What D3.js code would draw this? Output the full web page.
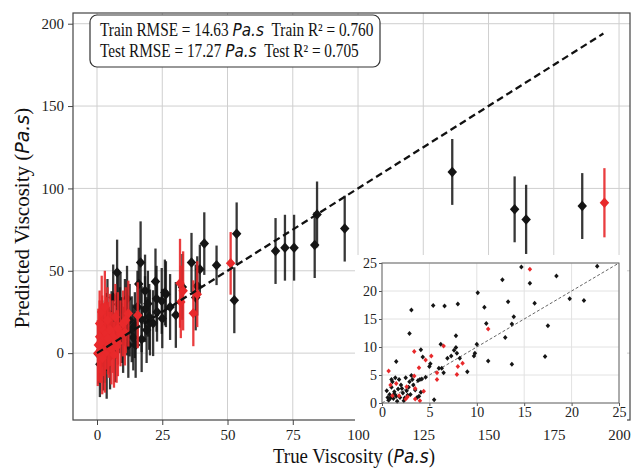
<!DOCTYPE html>
<html>
<head>
<meta charset="utf-8">
<script src="https://cdn.jsdelivr.net/npm/d3@7"></script>
<style>
	body { margin: 0; background: #fff; }
	.tick text { font-family: "Liberation Serif", "Times New Roman", serif; font-size: 15px; fill: #222; }
	.serif { font-family: "Liberation Serif", "Times New Roman", serif; fill: #111; }
	.mt { font-family: "DejaVu Sans", sans-serif; font-style: italic; }
</style>
</head>
<body>
<div id="chart"></div>
<script>
// main plot data: [true, predicted, error]
var trainPoints = [
	[136.1, 110, 20], [160, 87.3, 20], [164.4, 81.2, 21], [185.9, 89.3, 20],
	[68.4, 62, 20], [72, 64, 20], [75.5, 64, 20], [83.4, 65.6, 20], [84.3, 84.2, 20], [94.9, 75.6, 20],
	[53.5, 72.5, 19], [52.6, 32.1, 20], [45.8, 53.3, 12], [41.1, 66.5, 19], [39.4, 50.9, 15],
	[36.2, 55, 18], [38.4, 40.8, 18], [37.8, 33.8, 20], [32.7, 40.2, 20], [30.2, 23.2, 20], [26.4, 35.8, 20],
	[16.7, 55, 25], [7.7, 48.9, 20], [22.4, 43.5, 20], [18.4, 37.8, 22], [26, 36.8, 20], [24.8, 31.7, 20],
	[6.2, 33.8, 20], [8.2, 29.7, 20], [10.7, 25, 20], [18.4, 26.7, 20], [20.3, 18.6, 20], [21.5, 18.2, 20],
	[17.1, 20.6, 20], [3.7, 16.5, 20], [5.6, 17.6, 20], [7.5, 16.5, 20], [11.4, 18.6, 20], [13.9, 9.5, 20],
	[17.1, 8.5, 20], [13.3, 14.5, 20], [1.1, -6.7, 20], [3.7, -7.7, 20], [2.4, -4.7, 18], [6.9, 2.4, 20],
	[0.5, -0.6, 18], [12.5, 20, 22], [14.5, 17, 20], [15.5, 28, 22], [19.5, 30, 20], [23, 25, 18],
	[9.5, 14, 20], [10, 8, 20], [12, 5, 20], [8.8, 20, 20], [4.5, 8, 20], [2, 12, 20], [1.5, 4, 18],
	[3, 2, 20], [5, -2, 20], [9, 27, 22], [11.5, 33, 20], [16, 42, 22], [19, 14, 20], [25, 21, 18],
	[28, 28, 20], [4, 25, 20], [2.8, 6, 20], [14.8, 5, 20], [20, 22, 20], [22.8, 33, 20]
];
var testPoints = [
	[194.4, 91.3, 21], [51.2, 54.5, 19], [38.4, 35.8, 20], [36.9, 24.2, 20], [31.8, 42.4, 27],
	[33, 37.8, 24], [32.1, 31.1, 22], [15.6, 23, 20], [10.7, 12.5, 20],
	[0.5, 5, 22], [1, 10, 22], [1.5, 2, 20], [2, 15, 20], [2.5, 8, 22], [3, 0, 24], [3.5, 12, 22],
	[4, 20, 20], [4.5, 5, 20], [5, 14, 22], [6, 10, 22], [7, 22, 20], [8, 6, 20], [9, 12, 20],
	[10, 18, 20], [12, 24, 20], [1, 18, 20], [2, -3, 22], [0.3, 0, 20], [1.8, 25, 22], [6.5, -1, 20],
	[3, 28, 22], [8, 15, 22], [5.5, 3, 22], [11, 20, 20], [4.2, 9, 22], [7.5, 4, 22], [1.2, 6, 24]
];

// inset data: [true, predicted]
var insetTrain = [
	[22.7, 24.4], [14.7, 24.3], [15.6, 21.4], [12.7, 22.0], [18.4, 22.7], [10.1, 19.7], [13.3, 18.1],
	[19.8, 18.6], [21.3, 18.3], [16.1, 17.8], [10.8, 17.1], [8.0, 17.7], [6.6, 17.3], [5.4, 17.4],
	[3.1, 16.6], [2.9, 12.4], [11.0, 14.2], [13.7, 14.1], [13.9, 15.4], [17.5, 13.8], [13.0, 11.7],
	[7.8, 12.0], [10.0, 10.5], [11.2, 7.5], [13.7, 6.9], [17.2, 8.3], [6.2, 10.5], [7.8, 9.9],
	[7.6, 9.4], [7.3, 8.4], [7.9, 8.9], [8.2, 8.0], [6.9, 8.0], [9.7, 8.4], [9.8, 8.9], [9.0, 5.6],
	[6.5, 5.4], [6.3, 6.2], [6.0, 6.2], [5.0, 6.5], [5.1, 7.0], [4.6, 4.6], [4.2, 4.3], [3.8, 4.0],
	[4.1, 9.5], [4.3, 8.2], [5.5, 0.6], [1.5, 7.4], [0.5, 2.2], [0.8, 1.5], [1.0, 2.8], [1.2, 0.8],
	[1.3, 2.0], [1.5, 1.2], [1.7, 2.5], [1.9, 1.0], [2.0, 3.2], [2.2, 1.8], [2.4, 0.9], [2.6, 2.2],
	[0.7, 0.5], [1.1, 3.8], [1.4, 4.5], [1.8, 4.2], [2.5, 4.5], [2.9, 3.8], [3.1, 4.9], [3.3, 3.2],
	[3.0, 1.5], [3.5, 2.3], [3.7, 1.0], [1.6, 0.3], [2.3, 0.4], [0.9, 0.9], [1.0, 4.2], [2.8, 2.8],
	[0.6, 1.0], [3.9, 1.2], [4.1, 1.9], [4.0, 4.2], [3.2, 4.2], [2.1, 2.6], [1.3, 1.6], [2.7, 1.4]
];
var insetTest = [
	[15.6, 23.9], [11.2, 13.2], [6.5, 10.2], [3.4, 9.2], [5.2, 8.4], [4.6, 7.7], [3.9, 6.3],
	[8.0, 6.5], [8.5, 7.1], [7.9, 5.1], [5.8, 4.2], [5.8, 5.4], [0.7, 5.7], [3.4, 4.8], [0.9, 3.2],
	[3.5, 2.6], [4.4, 2.1], [2.6, 2.9], [1.8, 1.3], [2.7, 1.1], [2.5, 0.7], [3.5, 0.7], [4.0, 0.4],
	[1.5, 3.5], [1.1, 1.3]
];

var xTicks = [0, 25, 50, 75, 100, 125, 150, 175, 200];
var yTicks = [0, 50, 100, 150, 200];
var insetTicks = [0, 5, 10, 15, 20, 25];
var fitLine = [0, 194];
var insetLine = [0, 25];
var statLines = [
	["Train RMSE = 14.63 ", "Train R\u00b2 = 0.760"],
	["Test RMSE = 17.27 ", "Test R\u00b2 = 0.705"]
];

var colors = { train: "#151515", test: "#e8292b" };

var svg = d3.select("#chart").append("svg")
	.attr("width", 633)
	.attr("height", 468);

// main scales
var x = d3.scaleLinear().domain([-9.2, 204.2]).range([73, 630]);
var y = d3.scaleLinear().domain([-40.6, 206.5]).range([420, 13]);

// diamond path centred on 0,0
function diamond(w, h) {
	return "M0," + (-h / 2) + "L" + (w / 2) + ",0L0," + (h / 2) + "L" + (-w / 2) + ",0Z";
}

// grid
var grid = svg.append("g");
grid.selectAll(".gx").data(xTicks).enter().append("line")
	.attr("x1", function(d) { return x(d); }).attr("x2", function(d) { return x(d); })
	.attr("y1", 13).attr("y2", 420)
	.attr("stroke", "#cfcfcf").attr("stroke-width", 1);
grid.selectAll(".gy").data(yTicks).enter().append("line")
	.attr("x1", 73).attr("x2", 630)
	.attr("y1", function(d) { return y(d); }).attr("y2", function(d) { return y(d); })
	.attr("stroke", "#cfcfcf").attr("stroke-width", 1);

// axes
var xAxis = svg.append("g")
	.attr("transform", "translate(0,420)")
	.call(d3.axisBottom(x).tickValues(xTicks).tickSize(5).tickPadding(4));
var yAxis = svg.append("g")
	.attr("transform", "translate(73,0)")
	.call(d3.axisLeft(y).tickValues(yTicks).tickSize(5).tickPadding(4));
[xAxis, yAxis].forEach(function(a) {
	a.select(".domain").remove();
	a.selectAll(".tick line").attr("stroke", "#444");
});

// error bars and markers
function drawSeries(data, color, opacity) {
	var g = svg.append("g");
	g.selectAll("line").data(data).enter().append("line")
		.attr("x1", function(d) { return x(d[0]); })
		.attr("x2", function(d) { return x(d[0]); })
		.attr("y1", function(d) { return y(d[1] - d[2]); })
		.attr("y2", function(d) { return y(d[1] + d[2]); })
		.attr("stroke", color).attr("stroke-width", 2.3).attr("opacity", opacity);
	g.selectAll("path").data(data).enter().append("path")
		.attr("d", diamond(9.5, 10.5))
		.attr("transform", function(d) { return "translate(" + x(d[0]) + "," + y(d[1]) + ")"; })
		.attr("fill", color);
}
drawSeries(trainPoints, colors.train, 0.85);
drawSeries(testPoints, colors.test, 0.9);

// identity line
svg.append("line")
	.attr("x1", x(fitLine[0])).attr("y1", y(fitLine[0]))
	.attr("x2", x(fitLine[1])).attr("y2", y(fitLine[1]))
	.attr("stroke", "#111").attr("stroke-width", 2.3)
	.attr("stroke-dasharray", "7,4");

// frame
svg.append("rect")
	.attr("x", 73).attr("y", 13).attr("width", 557).attr("height", 407)
	.attr("fill", "none").attr("stroke", "#444").attr("stroke-width", 1.2);

// stats box (text squeezed horizontally like the source image)
svg.append("rect")
	.attr("x", 90).attr("y", 15).attr("width", 290).attr("height", 52).attr("rx", 7)
	.attr("fill", "#fff").attr("stroke", "#333").attr("stroke-width", 1.2);
statLines.forEach(function(s, i) {
	var t = svg.append("text").attr("class", "serif")
		.attr("transform", "translate(100," + (36 + i * 21) + ") scale(0.85,1)")
		.style("font-size", "18px");
	t.append("tspan").text(s[0]);
	t.append("tspan").attr("class", "mt").style("font-size", "18px").text("Pa.s");
	t.append("tspan").attr("dx", 9).text(s[1]);
});

// axis labels
svg.append("text").attr("class", "serif")
	.attr("transform", "translate(354,463) scale(0.9,1)")
	.attr("text-anchor", "middle")
	.style("font-size", "21px")
	.call(function(t) {
		t.append("tspan").text("True Viscosity (");
		t.append("tspan").attr("class", "mt").style("font-size", "19px").text("Pa.s");
		t.append("tspan").text(")");
	});
svg.append("text").attr("class", "serif")
	.attr("transform", "translate(29,218) rotate(-90)")
	.attr("text-anchor", "middle")
	.style("font-size", "21px")
	.call(function(t) {
		t.append("tspan").text("Predicted Viscosity (");
		t.append("tspan").attr("class", "mt").style("font-size", "19px").text("Pa.s");
		t.append("tspan").text(")");
	});

// inset
var xi = d3.scaleLinear().domain([0, 25]).range([382, 619]);
var yi = d3.scaleLinear().domain([0, 25]).range([403, 263]);
var inset = svg.append("g");
inset.append("rect")
	.attr("x", 355).attr("y", 255).attr("width", 272).attr("height", 170)
	.attr("fill", "#fff");
inset.selectAll(".ix").data(insetTicks).enter().append("line")
	.attr("x1", function(d) { return xi(d); }).attr("x2", function(d) { return xi(d); })
	.attr("y1", 263).attr("y2", 403)
	.attr("stroke", "#e2e2e2");
inset.selectAll(".iy").data(insetTicks).enter().append("line")
	.attr("x1", 382).attr("x2", 619)
	.attr("y1", function(d) { return yi(d); }).attr("y2", function(d) { return yi(d); })
	.attr("stroke", "#e2e2e2");
var ixa = inset.append("g").attr("transform", "translate(0,403)")
	.call(d3.axisBottom(xi).tickValues(insetTicks).tickSize(3).tickPadding(1));
var iya = inset.append("g").attr("transform", "translate(382,0)")
	.call(d3.axisLeft(yi).tickValues(insetTicks).tickSize(3).tickPadding(2));
[ixa, iya].forEach(function(a) {
	a.select(".domain").remove();
	a.selectAll(".tick line").attr("stroke", "#555");
	a.selectAll(".tick text").style("font-size", "14px");
});
inset.append("line")
	.attr("x1", xi(insetLine[0])).attr("y1", yi(insetLine[0]))
	.attr("x2", xi(insetLine[1])).attr("y2", yi(insetLine[1]))
	.attr("stroke", "#555").attr("stroke-width", 0.9)
	.attr("stroke-dasharray", "3,2");
[[insetTrain, colors.train], [insetTest, colors.test]].forEach(function(p) {
	inset.append("g").selectAll("path").data(p[0]).enter().append("path")
		.attr("d", diamond(4.5, 5))
		.attr("transform", function(d) { return "translate(" + xi(d[0]) + "," + yi(d[1]) + ")"; })
		.attr("fill", p[1]);
});
inset.append("rect")
	.attr("x", 382).attr("y", 263).attr("width", 237).attr("height", 140)
	.attr("fill", "none").attr("stroke", "#666").attr("stroke-width", 1);
</script>
</body>
</html>
